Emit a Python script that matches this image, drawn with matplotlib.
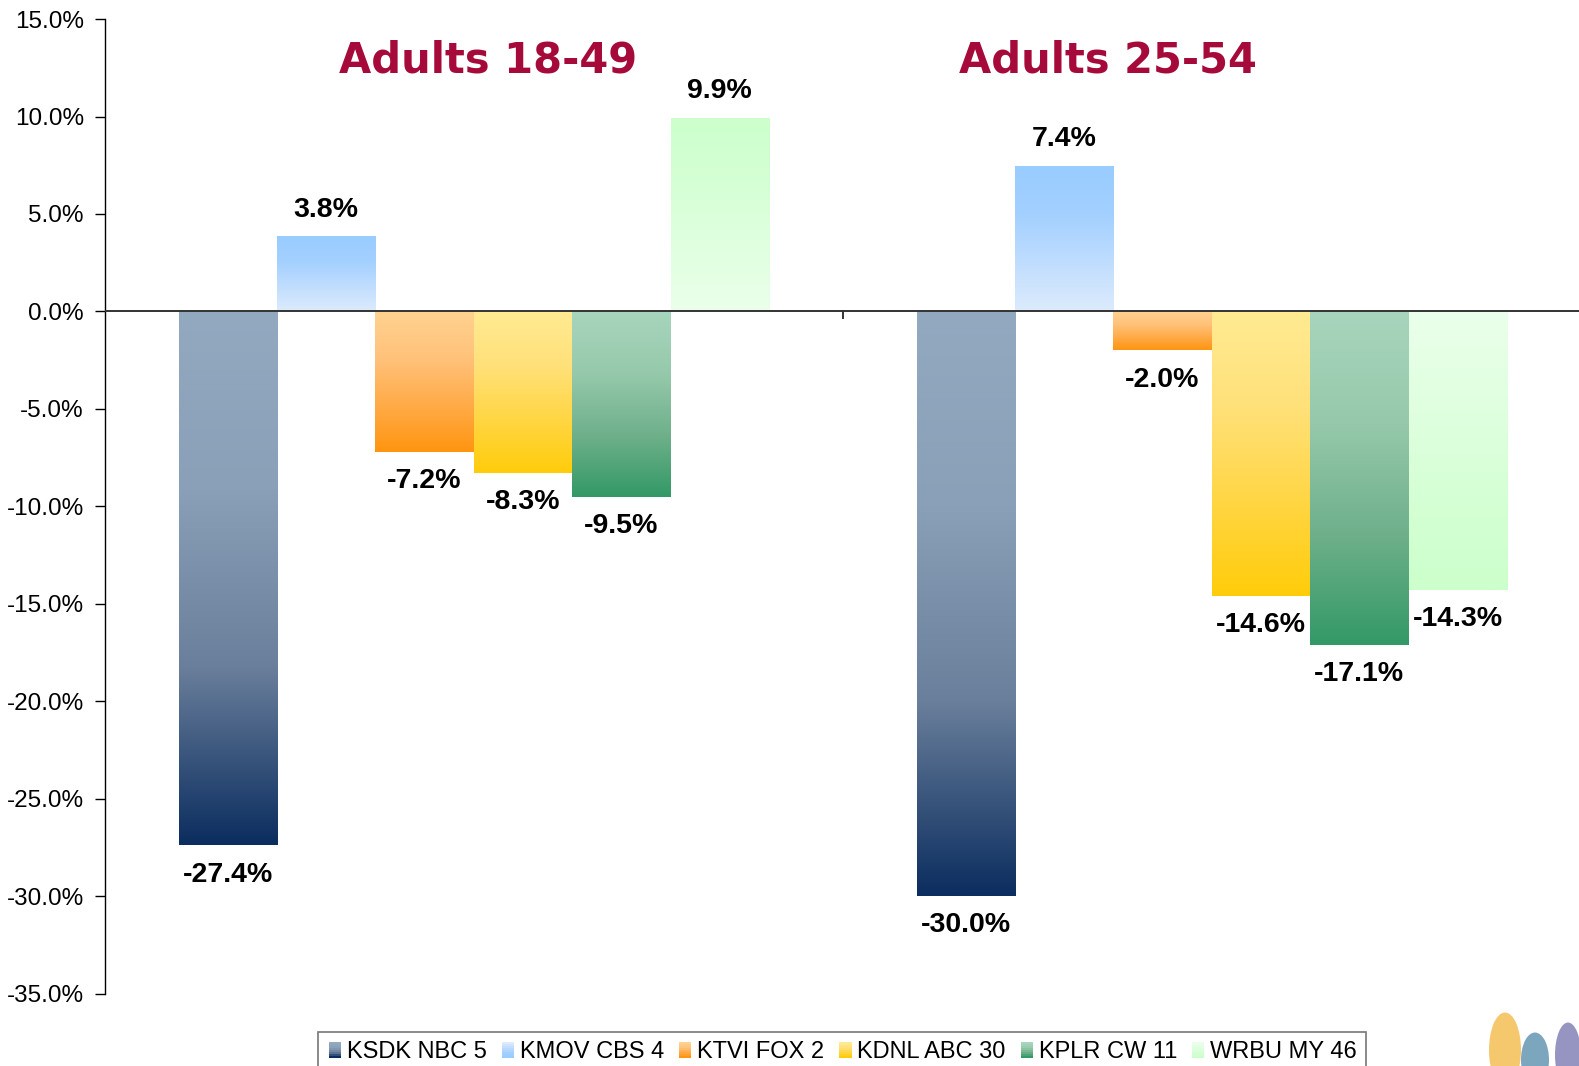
import matplotlib.pyplot as plt
import numpy as np
from matplotlib.colors import LinearSegmentedColormap
from matplotlib.legend_handler import HandlerPatch
from matplotlib.patches import Rectangle, Ellipse

plt.rcParams['font.family'] = ['Liberation Sans', 'DejaVu Sans']

groups = ['Adults 18-49', 'Adults 25-54']
stations = ['KSDK NBC 5', 'KMOV CBS 4', 'KTVI FOX 2', 'KDNL ABC 30', 'KPLR CW 11', 'WRBU MY 46']
a1849 = [-27.4, 3.8, -7.2, -8.3, -9.5, 9.9]
a2554 = [-30.0, 7.4, -2.0, -14.6, -17.1, -14.3]

# gradient stops: near zero -> far end
grads = [
    ['#93a9c0', '#8aa0b8', '#6a7f9b', '#0b2d5f'],
    ['#dcebfd', '#c0ddfe', '#a3d0ff', '#99ccff'],
    ['#ffd290', '#ffc27a', '#ffab48', '#ff9510'],
    ['#ffea92', '#ffe17a', '#ffd644', '#ffcc0a'],
    ['#a8d5bd', '#96c9ab', '#6fb08b', '#339966'],
    ['#eaffea', '#e0ffe0', '#d5ffd5', '#ccffcc'],
]

fig = plt.figure(figsize=(15.79, 10.66), dpi=100)
ax = fig.add_axes([104.7/1579, 72.4/1066, 1476/1579, 974.5/1066])

x = np.arange(len(groups))
w = 0.8 / len(stations)
vals = np.array([a1849, a2554]).T

for i, st in enumerate(stations):
    cmap = LinearSegmentedColormap.from_list(st, grads[i])
    pos = x - 0.4 + w * (i + 0.5)
    bars = ax.bar(pos, vals[i], w, color='none', edgecolor='none')
    for b, v in zip(bars, vals[i]):
        x0 = b.get_x()
        grad = np.linspace(0, 1, 256).reshape(-1, 1)
        if v >= 0:
            ext = [x0, x0 + w, 0, v]
            grad = grad[::-1]
        else:
            ext = [x0, x0 + w, v, 0]
        ax.imshow(grad, cmap=cmap, extent=ext, aspect='auto', interpolation='bilinear', zorder=2)
        off = 20 if v >= 0 else -21
        ax.annotate(f'{v:.1f}%', (b.get_x() + w / 2, v), xytext=(0, off), textcoords='offset points',
                    ha='center', va='center', fontsize=20.5, fontweight='bold')

ax.set_xlim(-0.5, 1.5)
ax.set_ylim(-35, 15)
ax.set_yticks(np.arange(-35, 16, 5))
ax.set_yticklabels([f'{t:.1f}%' for t in np.arange(-35, 16, 5)])
ax.tick_params(axis='y', labelsize=17.5, length=7, width=1, direction='out', pad=8)
ax.set_xticks([])
for s in ['top', 'right', 'bottom']:
    ax.spines[s].set_visible(False)
ax.spines['left'].set_linewidth(1)
ax.axhline(0, color='#333333', lw=1.4, zorder=3)
ax.plot([0.5, 0.5], [0, -0.35], color='#333333', lw=1.4, zorder=3, clip_on=False)

title_x = [0.02, 0.86]
for tx, name in zip(title_x, groups):
    ax.text(tx, 12.88, name, ha='center', va='center', fontsize=30, fontweight='bold',
            color='#a50a3a', family='DejaVu Sans')


class GradHandler(HandlerPatch):
    def create_artists(self, legend, orig_handle, xdescent, ydescent, width, height, fontsize, trans):
        cmap = LinearSegmentedColormap.from_list('h', orig_handle.stops)
        n = 8
        rw = height * 0.75
        out = []
        for k in range(n):
            r = Rectangle((width - rw - xdescent, -ydescent + height * (1 - (k + 1) / n)), rw, height / n,
                          facecolor=cmap(k / (n - 1)), edgecolor='none', transform=trans)
            out.append(r)
        return out


handles = []
for i in range(len(stations)):
    p = Rectangle((0, 0), 1, 1)
    p.stops = grads[i]
    handles.append(p)

leg = fig.legend(handles, stations, loc='upper center', bbox_to_anchor=(842/1579, 1 - 1032/1066), ncol=6,
                 fontsize=17, frameon=True, fancybox=False, edgecolor='#555555', handlelength=0.6,
                 handletextpad=0.25, columnspacing=0.55, borderpad=0.4, borderaxespad=0,
                 handler_map={Rectangle: GradHandler()})
leg.get_frame().set_linewidth(1.2)

# small decorative silhouettes, bottom right
for cx, cy, ew, eh, c in [(1505, 1050, 32, 75, '#f6c25e'), (1535, 1060, 28, 55, '#6e9bb7'), (1568, 1055, 26, 65, '#8b89ba')]:
    fig.patches.append(Ellipse((cx/1579, 1 - cy/1066), ew/1579, eh/1066, transform=fig.transFigure,
                               facecolor=c, edgecolor='none', alpha=0.9))

fig.savefig('out.png', dpi=100)
